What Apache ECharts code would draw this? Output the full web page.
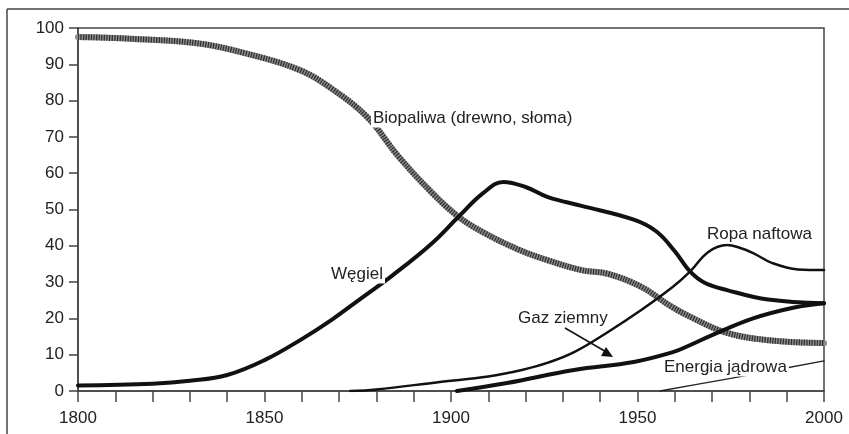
<!DOCTYPE html>
<html>
<head>
<meta charset="utf-8">
<script src="https://cdn.jsdelivr.net/npm/echarts@6/dist/echarts.min.js"></script>
<style>
    html, body { margin: 0; padding: 0; background: #fff; }
    #chart { width: 849px; height: 434px; }
</style>
</head>
<body>
<div id="chart"></div>
<script>
// 数据：[年份, 百分比]
const biopaliwa = [
    [1800, 97.5], [1815, 97], [1832, 95.8], [1845, 93], [1859.5, 88.4], [1868, 83.3],
    [1877.5, 75.5], [1886, 64.5], [1895, 54.5], [1902, 48], [1909, 43.5], [1918, 39],
    [1926, 36], [1935, 33.3], [1942, 32.3], [1951, 28.7], [1959, 23.3], [1965, 20],
    [1974, 16], [1985, 14], [2000, 13.2]
];
const wegiel = [
    [1800, 1.5], [1820, 2], [1830, 2.8], [1840, 4.4], [1850, 8.5], [1860, 14.3],
    [1868, 19.6], [1876, 25.6], [1884.5, 32], [1895, 40.8], [1902, 48], [1908.6, 54.5],
    [1914, 57.6], [1920, 56.2], [1926, 53.4], [1935, 51], [1949, 47.2], [1955, 44],
    [1960, 38.5], [1964, 33], [1968, 29.8], [1974, 27.8], [1985, 25.2], [2000, 24.2]
];
const ropa = [
    [1873, 0], [1880, 0.4], [1897, 2.5], [1910, 4], [1919, 5.8], [1926, 7.8],
    [1933, 10.7], [1942, 16.2], [1951, 22.3], [1959.5, 28.7], [1964, 32.8], [1969, 38.3],
    [1974, 40.2], [1977, 39.6], [1981, 38], [1986, 35.3], [1993, 33.5], [2000, 33.3]
];
const gaz = [
    [1901.6, 0], [1915, 2.2], [1933, 5.8], [1949, 8], [1959.5, 10.7], [1964, 12.6],
    [1970, 15.4], [1981, 20], [1992, 23], [2000, 24.2]
];
const jadrowa = [
    [1956, 0], [1975, 3.5], [2000, 8.3]
];
const xLabels = [1800, 1850, 1900, 1950, 2000];

const TEXT = '#222';
const AXIS = '#444';
const FONT = 'Liberation Sans, Arial, sans-serif';

function lineSeries(name, data, width, color, extra) {
    return Object.assign({
        name: name,
        type: 'line',
        data: data,
        smooth: 0.4,
        showSymbol: false,
        silent: true,
        lineStyle: { width: width, color: color, cap: 'round' }
    }, extra || {});
}

// 文字标签
function label(text, x, y, align) {
    return {
        type: 'text',
        z: 100,
        x: x,
        y: y,
        style: {
            text: text,
            fill: TEXT,
            font: '17px ' + FONT,
            align: align || 'left',
            verticalAlign: 'middle',
            backgroundColor: '#fff',
            padding: [1, 2]
        }
    };
}

const chart = echarts.init(document.getElementById('chart'), null, { renderer: 'canvas' });

chart.setOption({
    animation: false,
    backgroundColor: '#fff',
    grid: {
        left: 78, right: 25, top: 28, bottom: 43,
        show: true, borderColor: AXIS, borderWidth: 1.5, backgroundColor: 'transparent'
    },
    xAxis: {
        type: 'value',
        min: 1800, max: 2000, interval: 10,
        axisLine: { show: true, lineStyle: { color: AXIS, width: 1.5 } },
        axisTick: { show: true, length: 11, lineStyle: { color: AXIS, width: 1.5 } },
        splitLine: { show: false },
        axisLabel: {
            color: TEXT, fontSize: 17, fontFamily: FONT, margin: 19,
            formatter: v => xLabels.indexOf(v) >= 0 ? String(v) : ''
        }
    },
    yAxis: {
        type: 'value',
        min: 0, max: 100, interval: 10,
        axisLine: { show: true, lineStyle: { color: AXIS, width: 1.5 } },
        axisTick: { show: true, length: 9, lineStyle: { color: AXIS, width: 1.5 } },
        splitLine: { show: false },
        axisLabel: { color: TEXT, fontSize: 17, fontFamily: FONT, margin: 14 }
    },
    series: [
        lineSeries('Biopaliwa', biopaliwa, 6, '#8c8c8c'),
        lineSeries('Biopaliwa-kreski', biopaliwa, 6, '#2e2e2e', {
            lineStyle: { width: 6, color: '#2e2e2e', type: [1.2, 1.4], cap: 'butt' }
        }),
        lineSeries('Węgiel', wegiel, 4, '#111'),
        lineSeries('Ropa naftowa', ropa, 2.5, '#111'),
        lineSeries('Gaz ziemny', gaz, 4, '#111'),
        lineSeries('Energia jądrowa', jadrowa, 1.3, '#222', { smooth: 0.2 })
    ],
    graphic: [
        // 外框
        { type: 'line', z: 100, shape: { x1: 7, y1: 434, x2: 7, y2: 9 }, style: { stroke: AXIS, lineWidth: 1.5 } },
        { type: 'line', z: 100, shape: { x1: 7, y1: 9, x2: 849, y2: 9 }, style: { stroke: AXIS, lineWidth: 1.5 } },
        label('Biopaliwa (drewno, słoma)', 371, 118),
        label('Węgiel', 385, 274, 'right'),
        label('Ropa naftowa', 705, 234),
        label('Gaz ziemny', 516, 318),
        label('Energia jądrowa', 662, 367),
        // 箭头
        { type: 'line', z: 100, shape: { x1: 565, y1: 328, x2: 608, y2: 353 }, style: { stroke: '#111', lineWidth: 1.5 } },
        { type: 'polygon', z: 100, shape: { points: [[613, 357], [601, 356], [606, 347]] }, style: { fill: '#111' } }
    ]
});
</script>
</body>
</html>
